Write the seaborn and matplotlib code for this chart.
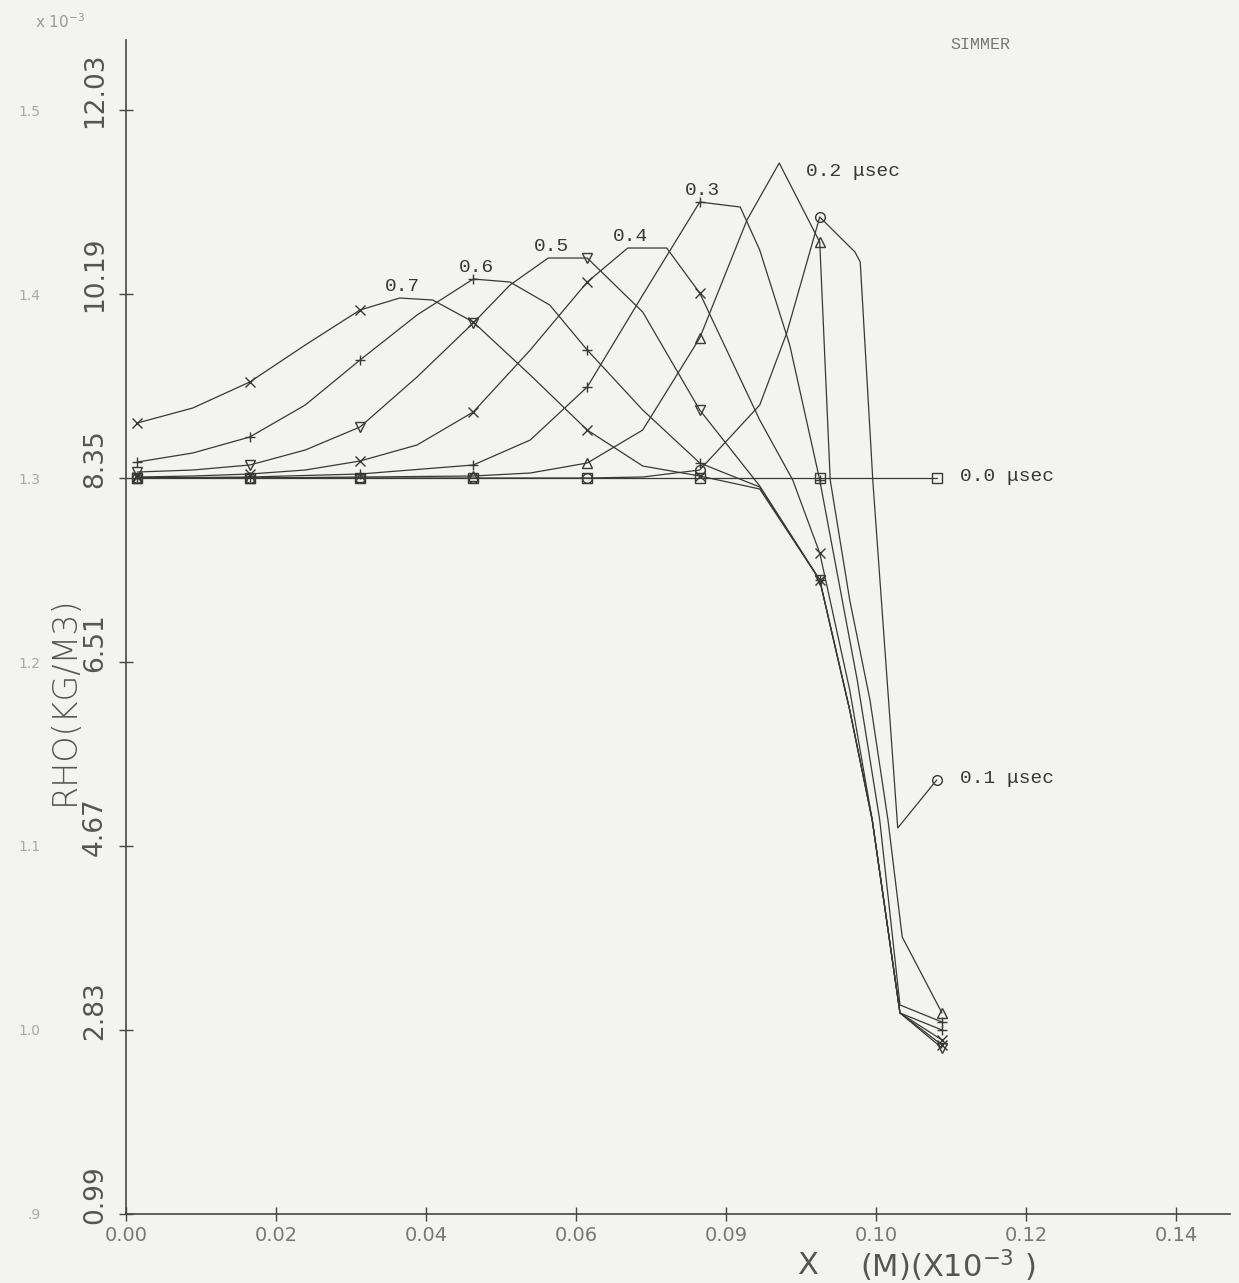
import numpy as np
import pandas as pd
import matplotlib
matplotlib.use('Agg')
import matplotlib.pyplot as plt
import matplotlib.transforms as mtransforms
import seaborn as sns

# ==================== DATA ====================
# x in m (x10^-3), rho on the inner scale (kg/m3)
x_00 = [0.0015, 0.0165, 0.0312, 0.0463, 0.0615, 0.0765, 0.0925, 0.1081]
rho_00 = [8.35, 8.35, 8.35, 8.35, 8.35, 8.35, 8.35, 8.35]

x_01 = [0.0015, 0.0165, 0.0312, 0.0463, 0.0615, 0.0689, 0.0765, 0.0845, 0.0881,
        0.0925, 0.0972, 0.0979, 0.0996, 0.1029, 0.1081]
rho_01 = [8.35, 8.35, 8.35, 8.35, 8.35, 8.36, 8.43, 9.08, 9.80,
          10.96, 10.61, 10.51, 8.30, 4.85, 5.33]

x_02 = [0.0015, 0.0165, 0.0312, 0.0463, 0.0539, 0.0615, 0.0689, 0.0765, 0.0828,
        0.0871, 0.0925, 0.0939, 0.0965, 0.0992, 0.1016, 0.1035, 0.1088]
rho_02 = [8.35, 8.35, 8.36, 8.37, 8.40, 8.50, 8.83, 9.75, 10.93,
          11.50, 10.71, 8.33, 7.13, 6.13, 4.93, 3.76, 3.00]

x_03 = [0.0015, 0.0165, 0.0312, 0.0463, 0.0539, 0.0615, 0.0689, 0.0765, 0.0819,
        0.0845, 0.0885, 0.0925, 0.0975, 0.1005, 0.1032, 0.1088]
rho_03 = [8.35, 8.36, 8.39, 8.48, 8.73, 9.26, 10.18, 11.11, 11.06,
          10.63, 9.68, 8.33, 6.33, 4.93, 3.08, 2.91]

x_04 = [0.0015, 0.0089, 0.0165, 0.0239, 0.0312, 0.0388, 0.0463, 0.0539, 0.0615,
        0.0669, 0.0721, 0.0765, 0.0845, 0.0889, 0.0925, 0.0965, 0.0995, 0.1032, 0.1088]
rho_04 = [8.36, 8.37, 8.39, 8.43, 8.52, 8.68, 9.01, 9.63, 10.31,
          10.65, 10.65, 10.20, 8.93, 8.33, 7.60, 6.23, 4.93, 3.00, 2.73]

x_05 = [0.0015, 0.0089, 0.0165, 0.0239, 0.0312, 0.0388, 0.0463, 0.0512, 0.0563,
        0.0615, 0.0689, 0.0765, 0.0845, 0.0925, 0.0965, 0.0995, 0.1032, 0.1088]
rho_05 = [8.41, 8.43, 8.48, 8.63, 8.86, 9.36, 9.90, 10.28, 10.55,
          10.55, 10.01, 9.03, 8.27, 7.33, 6.03, 4.93, 3.00, 2.65]

x_06 = [0.0015, 0.0089, 0.0165, 0.0239, 0.0312, 0.0388, 0.0463, 0.0512, 0.0565,
        0.0615, 0.0689, 0.0765, 0.0845, 0.0925, 0.0965, 0.0995, 0.1032, 0.1088]
rho_06 = [8.51, 8.60, 8.76, 9.08, 9.53, 9.98, 10.34, 10.31, 10.08,
          9.63, 9.03, 8.50, 8.26, 7.33, 6.03, 4.93, 3.00, 2.83]

x_07 = [0.0015, 0.0089, 0.0165, 0.0239, 0.0312, 0.0365, 0.0409, 0.0463, 0.0539,
        0.0615, 0.0689, 0.0765, 0.0845, 0.0925, 0.0965, 0.0995, 0.1032, 0.1088]
rho_07 = [8.90, 9.05, 9.31, 9.68, 10.03, 10.15, 10.13, 9.91, 9.38,
          8.83, 8.47, 8.37, 8.24, 7.33, 6.03, 4.93, 3.00, 2.68]

times = ['0.0', '0.1', '0.2', '0.3', '0.4', '0.5', '0.6', '0.7']
curves_x = [x_00, x_01, x_02, x_03, x_04, x_05, x_06, x_07]
curves_rho = [rho_00, rho_01, rho_02, rho_03, rho_04, rho_05, rho_06, rho_07]

# mesh cells that carry a plot symbol
node_x = [0.0015, 0.0165, 0.0312, 0.0463, 0.0615, 0.0765, 0.0925, 0.1085]

xticks = [0.00, 0.02, 0.04, 0.06, 0.08, 0.10, 0.12, 0.14]
xticklabels = ['0.00', '0.02', '0.04', '0.06', '0.09', '0.10', '0.12', '0.14']
yticks_inner = [0.99, 2.83, 4.67, 6.51, 8.35, 10.19, 12.03]
yticks_outer = [0.9, 1.0, 1.1, 1.2, 1.3, 1.4, 1.5]
ylabels_outer = ['.9', '1.0', '1.1', '1.2', '1.3', '1.4', '1.5']

# ==================== LONG TABLE ====================
df = pd.concat([pd.DataFrame({'time': t, 'x': xs, 'rho': ys})
                for t, xs, ys in zip(times, curves_x, curves_rho)], ignore_index=True)

# ==================== STYLE ====================
sns.set_theme(style='ticks')
plt.rcParams['font.family'] = ['DejaVu Sans']
paper = '#f3f3f2'
ink = '#383838'
mono = ['Liberation Mono', 'DejaVu Sans Mono']

symbols = {'0.0': 's', '0.1': 'o', '0.2': '^', '0.3': '+',
           '0.4': 'x', '0.5': 'v', '0.6': '+', '0.7': 'x'}

fig = plt.figure(figsize=(12.39, 12.83), dpi=100, facecolor=paper)
ax = fig.add_axes([0.1017, 0.0538, 0.891, 0.915], facecolor=paper)

sns.lineplot(data=df, x='x', y='rho', units='time', estimator=None, sort=False,
             color=ink, lw=0.9, legend=False, ax=ax)

for t in times:
    sub = df[df['time'] == t]
    near = np.min(np.abs(sub['x'].values[:, None] - np.array(node_x)[None, :]), axis=1) < 0.0006
    ax.plot(sub['x'][near], sub['rho'][near], ls='none', marker=symbols[t], ms=7,
            mfc='none', mec=ink, mew=1.0)

# ==================== CURVE LABELS ====================
for t in ['0.3', '0.4', '0.5', '0.6', '0.7']:
    sub = df[df['time'] == t].reset_index(drop=True)
    i = sub['rho'].idxmax()
    ax.annotate(t, xy=(sub['x'][i], sub['rho'][i]), xytext=(2, 8), textcoords='offset points',
                ha='center', va='center', fontsize=14, color=ink, family=mono)

sub = df[df['time'] == '0.2'].reset_index(drop=True)
i = sub['rho'].idxmax()
ax.annotate('0.2 μsec', xy=(sub['x'][i], sub['rho'][i]), xytext=(19, -6), textcoords='offset points',
            ha='left', va='center', fontsize=14, color=ink, family=mono)

for t in ['0.0', '0.1']:
    sub = df[df['time'] == t]
    ax.annotate(f'{t} μsec', xy=(sub['x'].iloc[-1], sub['rho'].iloc[-1]), xytext=(17, 1),
                textcoords='offset points', ha='left', va='center', fontsize=14,
                color=ink, family=mono)

# ==================== AXES ====================
ax.set_xlim(0, 0.1472)
ax.set_ylim(0.99, 12.73)
sns.despine(ax=ax)
for s in ['left', 'bottom']:
    ax.spines[s].set_color('#444444')
    ax.spines[s].set_linewidth(1.2)

ax.set_xticks(xticks, labels=xticklabels)
ax.set_yticks(yticks_inner, labels=[f'{v:.2f}' for v in yticks_inner])
ax.tick_params(axis='both', direction='inout', length=10, width=1, color='#444444')
ax.tick_params(axis='x', labelsize=14, labelcolor='#777777', pad=4)
ax.tick_params(axis='y', labelsize=19, labelcolor='#555555', pad=8, labelrotation=90)
shift = mtransforms.ScaledTranslation(0, 14 / 72, fig.dpi_scale_trans)
for lbl in ax.get_yticklabels():
    lbl.set_va('center')
    lbl.set_transform(lbl.get_transform() + shift)

sec = ax.secondary_yaxis(-0.076, functions=(lambda v: 0.9 + (v - 0.99) / 18.4,
                                            lambda v: 0.99 + (v - 0.9) * 18.4))
sec.set_yticks(yticks_outer, labels=ylabels_outer)
sec.spines['left'].set_visible(False)
sec.tick_params(length=0, labelsize=10, labelcolor='#a8a8a8', pad=1)

ax.set_xlabel('')
ax.set_ylabel('')
ax.text(-0.056, 0.438, 'RHO(KG/M3)', transform=ax.transAxes, rotation=90,
        ha='center', va='center', fontsize=24, color='#555555', fontweight='light')
ax.text(0.617, -0.044, 'X', transform=ax.transAxes, ha='center', va='center',
        fontsize=22, color='#555555')
ax.text(0.665, -0.044, '(M)(X10$^{-3}$ )', transform=ax.transAxes, ha='left', va='center',
        fontsize=22, color='#555555')

fig.text(0.028, 0.983, 'x 10$^{-3}$', ha='left', va='center', fontsize=11, color='#9a9a9a')
fig.text(0.767, 0.965, 'SIMMER', ha='left', va='center', fontsize=12, color='#777777', family=mono)

fig.savefig('out.png', dpi=100, facecolor=paper)
